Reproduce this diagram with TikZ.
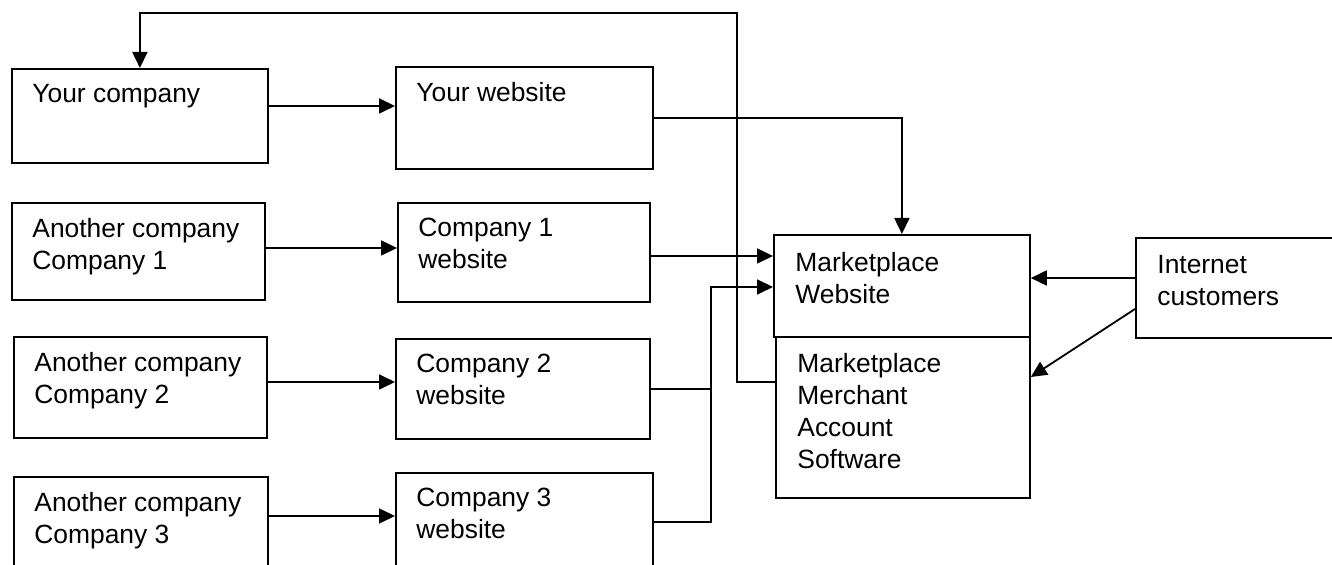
\documentclass[tikz,border=0pt]{standalone}
\usepackage{fontspec}
\setmainfont{Liberation Sans}
\usepackage{tikz}
\usetikzlibrary{arrows.meta, positioning}
\tikzset{
  cbox/.style={draw=black, line width=0.9pt, rectangle, inner sep=0pt, anchor=north west},
  ctext/.style={inner sep=0pt, align=left, font=\fontsize{13.2}{16}\selectfont, text=black},
  flow/.style={-{Triangle[length=8pt, width=7.5pt]}, draw=black, line width=0.9pt},
  wire/.style={draw=black, line width=0.9pt}
}
\begin{document}
\begin{tikzpicture}[x=0.5pt, y=-0.5pt]
\useasboundingbox (0,0) rectangle (1332,565);
% boxes
\node[cbox, minimum width=128pt, minimum height=47pt] (yc) at (11,68) {};
\node[cbox, minimum width=128.5pt, minimum height=51pt] (yw) at (395,66) {};
\node[cbox, minimum width=126.5pt, minimum height=48.5pt] (c1) at (11,202) {};
\node[cbox, minimum width=126pt, minimum height=49.5pt] (w1) at (397,202) {};
\node[cbox, minimum width=126.5pt, minimum height=50.5pt] (c2) at (13,336) {};
\node[cbox, minimum width=127pt, minimum height=50pt] (w2) at (395,338) {};
\node[cbox, minimum width=127pt, minimum height=50pt] (c3) at (13,476) {};
\node[cbox, minimum width=128.5pt, minimum height=49pt] (w3) at (395,472) {};
\node[cbox, minimum width=128pt, minimum height=51pt] (mw) at (773,234) {};
\node[cbox, minimum width=127pt, minimum height=80.5pt] (ma) at (775,336) {};
\node[cbox, minimum width=105pt, minimum height=50pt] (ic) at (1135,237) {};
% texts
\node[ctext, below right=8pt and 10.5pt of yc.north west] (yct) {Your company};
\node[ctext, below right=8pt and 10.5pt of yw.north west] (ywt) {Your website};
\node[ctext, below right=8pt and 10.5pt of c1.north west] (c1t) {Another company\\Company 1};
\node[ctext, below right=8pt and 10.5pt of w1.north west] (w1t) {Company 1\\website};
\node[ctext, below right=8pt and 10.5pt of c2.north west] (c2t) {Another company\\Company 2};
\node[ctext, below right=8pt and 10.5pt of w2.north west] (w2t) {Company 2\\website};
\node[ctext, below right=8pt and 10.5pt of c3.north west] (c3t) {Another company\\Company 3};
\node[ctext, below right=8pt and 10.5pt of w3.north west] (w3t) {Company 3\\website};
\node[ctext, below right=9pt and 11pt of mw.north west] (mwt) {Marketplace\\Website};
\node[ctext, below right=8.5pt and 11pt of ma.north west] (mat) {Marketplace\\Merchant\\Account\\Software};
\node[ctext, below right=9pt and 11pt of ic.north west] (ict) {Internet\\customers};
% connectors
\coordinate (jn) at (711,287);
\coordinate (tp) at (737,13);
\draw[flow] (yc.east |- 0,106) -- (yw.west |- 0,106);
\draw[flow] (c1.east |- 0,248) -- (w1.west |- 0,248);
\draw[flow] (c2.east |- 0,382) -- (w2.west |- 0,382);
\draw[flow] (c3.east |- 0,516) -- (w3.west |- 0,516);
\draw[flow] (yw.east) -| (mw.north);
\draw[flow] (w1.east |- 0,256) -- (mw.west |- 0,256);
\draw[flow] (w3.east) -| (jn) -- (jn -| mw.west);
\draw[wire] (w2.east) -- (w2.east -| jn);
\draw[flow] (ma.west |- 0,382) -| (tp) -| (yc.north);
\draw[flow] (ic.west |- 0,278) -- (mw.east |- 0,278);
\draw[flow] (ic.west |- 0,309) -- (ma.east |- 0,377);
\end{tikzpicture}
\end{document}
